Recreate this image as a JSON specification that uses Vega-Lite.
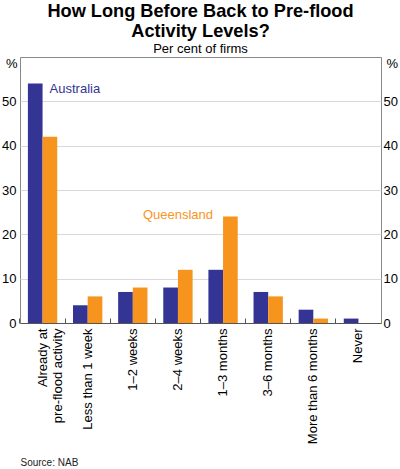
{
  "$schema": "https://vega.github.io/schema/vega-lite/v6.json",
  "width": 361,
  "height": 266,
  "autosize": "none",
  "padding": {"left": 20, "top": 57, "right": 19, "bottom": 146},
  "title": {
    "text": ["How Long Before Back to Pre-flood", "Activity Levels?"],
    "subtitle": "Per cent of firms",
    "anchor": "middle",
    "font": "Liberation Sans",
    "fontSize": 18.2,
    "fontWeight": "bold",
    "lineHeight": 19.5,
    "color": "#000",
    "subtitleFont": "Liberation Sans",
    "subtitleFontSize": 13,
    "subtitleColor": "#000",
    "subtitlePadding": 2,
    "offset": 0
  },
  "config": {
    "font": "Liberation Sans",
    "view": {"stroke": "#888"}
  },
  "datasets": {
    "bars": [
      {"category": "Already at pre-flood activity", "series": "Australia", "value": 54},
      {"category": "Already at pre-flood activity", "series": "Queensland", "value": 42},
      {"category": "Less than 1 week", "series": "Australia", "value": 4},
      {"category": "Less than 1 week", "series": "Queensland", "value": 6},
      {"category": "1–2 weeks", "series": "Australia", "value": 7},
      {"category": "1–2 weeks", "series": "Queensland", "value": 8},
      {"category": "2–4 weeks", "series": "Australia", "value": 8},
      {"category": "2–4 weeks", "series": "Queensland", "value": 12},
      {"category": "1–3 months", "series": "Australia", "value": 12},
      {"category": "1–3 months", "series": "Queensland", "value": 24},
      {"category": "3–6 months", "series": "Australia", "value": 7},
      {"category": "3–6 months", "series": "Queensland", "value": 6},
      {"category": "More than 6 months", "series": "Australia", "value": 3},
      {"category": "More than 6 months", "series": "Queensland", "value": 1},
      {"category": "Never", "series": "Australia", "value": 1},
      {"category": "Never", "series": "Queensland", "value": 0}
    ],
    "labels": [
      {"category": "Already at pre-flood activity", "series": "Australia", "value": 52.8},
      {"category": "2–4 weeks", "series": "Queensland", "value": 24.3}
    ]
  },
  "resolve": {"axis": {"y": "independent"}},
  "layer": [
    {
      "data": {"name": "bars"},
      "mark": {"type": "bar"},
      "encoding": {
        "x": {
          "field": "category",
          "type": "nominal",
          "sort": null,
          "scale": {"paddingInner": 0.35, "paddingOuter": 0.175},
          "axis": {
            "title": "Source: NAB",
            "titleX": 0,
            "titleY": 142,
            "titleAlign": "left",
            "titleAnchor": "start",
            "titleBaseline": "alphabetic",
            "titleFontSize": 10,
            "titleFontWeight": "normal",
            "titleColor": "#222",
            "labelAngle": -90,
            "labelAlign": "right",
            "labelBaseline": "middle",
            "labelFontSize": 13,
            "labelColor": "#000",
            "labelLineHeight": 15,
            "labelPadding": 10,
            "labelExpr": "datum.value == 'Already at pre-flood activity' ? ['Already at', 'pre-flood activity'] : datum.label",
            "tickSize": -5,
            "bandPosition": -0.27,
            "tickColor": "#555",
            "domainColor": "#555"
          }
        },
        "xOffset": {
          "field": "series",
          "sort": ["Australia", "Queensland"],
          "scale": {"paddingInner": 0, "paddingOuter": 0}
        },
        "y": {
          "field": "value",
          "type": "quantitative",
          "scale": {"domain": [0, 60]},
          "axis": {
            "orient": "left",
            "values": [0, 10, 20, 30, 40, 50],
            "title": "%",
            "titleAngle": 0,
            "titleAlign": "right",
            "titleBaseline": "middle",
            "titleX": -3,
            "titleY": 6,
            "titleFontSize": 13,
            "titleFontWeight": "normal",
            "titleColor": "#000",
            "labelFontSize": 13,
            "labelColor": "#000",
            "labelPadding": 4,
            "ticks": false,
            "domain": false,
            "grid": true,
            "gridColor": "#d9d9d9"
          }
        },
        "color": {
          "field": "series",
          "scale": {"domain": ["Australia", "Queensland"], "range": ["#343494", "#f7941d"]},
          "legend": null
        }
      }
    },
    {
      "data": {"name": "labels"},
      "transform": [{"filter": "datum.series == 'Australia'"}],
      "mark": {"type": "text", "align": "left", "baseline": "middle", "dx": 7, "fontSize": 13},
      "encoding": {
        "x": {"field": "category", "type": "nominal", "sort": null},
        "y": {
          "field": "value",
          "type": "quantitative",
          "scale": {"domain": [0, 60]},
          "axis": {
            "orient": "right",
            "values": [0, 10, 20, 30, 40, 50],
            "title": "%",
            "titleAngle": 0,
            "titleAlign": "left",
            "titleBaseline": "middle",
            "titleX": 5,
            "titleY": 6,
            "titleFontSize": 13,
            "titleFontWeight": "normal",
            "titleColor": "#000",
            "labelFontSize": 13,
            "labelColor": "#000",
            "labelPadding": 2,
            "ticks": false,
            "domain": false,
            "grid": false
          }
        },
        "text": {"field": "series"},
        "color": {"field": "series", "legend": null}
      }
    },
    {
      "data": {"name": "labels"},
      "transform": [{"filter": "datum.series == 'Queensland'"}],
      "mark": {"type": "text", "align": "center", "baseline": "middle", "fontSize": 13},
      "encoding": {
        "x": {"field": "category", "type": "nominal", "sort": null},
        "y": {"field": "value", "type": "quantitative", "scale": {"domain": [0, 60]}, "axis": null},
        "text": {"field": "series"},
        "color": {"field": "series", "legend": null}
      }
    }
  ]
}
